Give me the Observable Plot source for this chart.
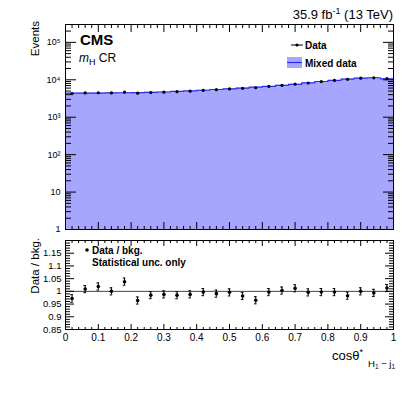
<!DOCTYPE html>
<html><head><meta charset="utf-8">
<script src="https://cdn.jsdelivr.net/npm/d3@7"></script>
<script src="https://cdn.jsdelivr.net/npm/@observablehq/plot@0.6"></script>
<style>
html,body{margin:0;padding:0;background:#fff;}
#wrap{position:relative;width:407px;height:395px;overflow:hidden;font-family:"Liberation Sans",Arial,sans-serif;}
#wrap svg{position:absolute;left:0;}
</style></head>
<body><div id="wrap"></div>
<script>
// ---- data ----
const binCenters = [0.02,0.06,0.10,0.14,0.18,0.22,0.26,0.30,0.34,0.38,0.42,0.46,0.50,0.54,0.58,0.62,0.66,0.70,0.74,0.78,0.82,0.86,0.90,0.94,0.98];
const binLow = [0,0.04,0.08,0.12,0.16,0.20,0.24,0.28,0.32,0.36,0.40,0.44,0.48,0.52,0.56,0.60,0.64,0.68,0.72,0.76,0.80,0.84,0.88,0.92,0.96];
const binUpperEdge = 1.0;
const mixedData = [4400,4420,4420,4450,4500,4560,4620,4720,4880,5030,5260,5500,5740,6020,6340,6650,7100,7580,8240,8990,9620,10450,11050,11350,10600];
const dataEvents = [4277,4460,4504,4450,4671,4396,4551,4663,4807,4970,5244,5450,5717,5912,6118,6630,7121,7671,8207,8963,9591,10272,11050,11282,10738];
const ratio = [0.972,1.009,1.019,1.000,1.038,0.964,0.985,0.988,0.985,0.988,0.997,0.991,0.996,0.982,0.965,0.997,1.003,1.012,0.996,0.997,0.997,0.983,1.000,0.994,1.013];
const ratioErr = [0.015,0.014,0.014,0.014,0.014,0.014,0.014,0.014,0.014,0.014,0.014,0.014,0.014,0.014,0.014,0.014,0.014,0.014,0.014,0.014,0.014,0.014,0.014,0.014,0.014];

const yMajorUp = [1,10,100,1000,10000,100000];
const yMajorUpLabels = ["1","10","10²","10³","10⁴","10⁵"];
const yMinorUp = [2,3,4,5,6,7,8,9,20,30,40,50,60,70,80,90,200,300,400,500,600,700,800,900,
  2000,3000,4000,5000,6000,7000,8000,9000,20000,30000,40000,50000,60000,70000,80000,90000,200000,300000];
const xMajor = [0,0.1,0.2,0.3,0.4,0.5,0.6,0.7,0.8,0.9,1];
const xMajorLabels = ["0","0.1","0.2","0.3","0.4","0.5","0.6","0.7","0.8","0.9","1"];
const xMinor = [0.02,0.04,0.06,0.08,0.12,0.14,0.16,0.18,0.22,0.24,0.26,0.28,0.32,0.34,0.36,0.38,0.42,0.44,0.46,0.48,
  0.52,0.54,0.56,0.58,0.62,0.64,0.66,0.68,0.72,0.74,0.76,0.78,0.82,0.84,0.86,0.88,0.92,0.94,0.96,0.98];
const yMajorLo = [0.85,0.9,0.95,1,1.05,1.1,1.15];
const yMajorLoLabels = ["0.85","0.9","0.95","1","1.05","1.1","1.15"];
const yMinorLo = [0.86,0.87,0.88,0.89,0.91,0.92,0.93,0.94,0.96,0.97,0.98,0.99,1.01,1.02,1.03,1.04,1.06,1.07,1.08,1.09,1.11,1.12,1.13,1.14,1.16,1.17,1.18,1.19];

// ---- tables ----
const histEdges = binLow.map((x,i)=>({x, y: mixedData[i]})).concat([{x: binUpperEdge, y: mixedData[mixedData.length-1]}]);
const pts = binCenters.map((x,i)=>({x, n: dataEvents[i], r: ratio[i], e: ratioErr[i]}));

const FONT = '"Liberation Sans", Arial, sans-serif';
const W = 407, ML = 65, MR = 14;
const IW = W - ML - MR;

function inTicks(xTicks, yTicks, ih, big, small, ybig, ysmall) {
  const fmt = () => "";
  return [
    Plot.axisY(yTicks.major, {anchor:"right", dx:-IW, tickSize:ybig, tickFormat:fmt, label:null}),
    Plot.axisY(yTicks.minor, {anchor:"right", dx:-IW, tickSize:ysmall, tickFormat:fmt, label:null}),
    Plot.axisY(yTicks.major, {anchor:"left", dx:IW, tickSize:ybig, tickFormat:fmt, label:null}),
    Plot.axisY(yTicks.minor, {anchor:"left", dx:IW, tickSize:ysmall, tickFormat:fmt, label:null}),
    Plot.axisX(xTicks.major, {anchor:"top", dy:ih, tickSize:big, tickFormat:fmt, label:null}),
    Plot.axisX(xTicks.minor, {anchor:"top", dy:ih, tickSize:small, tickFormat:fmt, label:null}),
    Plot.axisX(xTicks.major, {anchor:"bottom", dy:-ih, tickSize:big, tickFormat:fmt, label:null}),
    Plot.axisX(xTicks.minor, {anchor:"bottom", dy:-ih, tickSize:small, tickFormat:fmt, label:null})
  ];
}

// ---- upper panel ----
const upH = 237, upMT = 24, upMB = 8;
const upper = Plot.plot({
  width: W, height: upH, marginLeft: ML, marginRight: MR, marginTop: upMT, marginBottom: upMB,
  style: {background:"transparent", fontFamily: FONT, fontSize:"9px", color:"black"},
  x: {domain:[0,1]},
  y: {type:"log", domain:[1, 3e5]},
  marks: [
    Plot.areaY(histEdges, {x:"x", y1: 1, y2:"y", curve:"step-after", fill:"#a6a6ff"}),
    Plot.line(histEdges, {x:"x", y:"y", curve:"step-after", stroke:"#2b2bff", strokeWidth:1.2}),
    Plot.dot(pts, {x:"x", y:"n", r:1.6, fill:"black", stroke:null}),
    ...inTicks({major:xMajor, minor:xMinor}, {major:yMajorUp, minor:yMinorUp}, upH-upMT-upMB, 8, 4, 10, 5),
    Plot.axisY(yMajorUp, {anchor:"left", tickSize:0, tickPadding:5, tickFormat:(d)=>yMajorUpLabels[yMajorUp.indexOf(d)], label:null, fontSize:9}),
    Plot.frame({stroke:"black"})
  ]
});
upper.style.top = "0px";

// ---- lower panel ----
const loH = 165, loMT = 10, loMB = 66;
const lower = Plot.plot({
  width: W, height: loH, marginLeft: ML, marginRight: MR, marginTop: loMT, marginBottom: loMB,
  style: {background:"transparent", fontFamily: FONT, fontSize:"9.5px", color:"black"},
  x: {domain:[0,1]},
  y: {domain:[0.85, 1.2]},
  marks: [
    Plot.ruleY([1], {stroke:"#444", strokeWidth:1}),
    Plot.ruleX(pts, {x:"x", y1:(d)=>d.r-d.e, y2:(d)=>d.r+d.e, stroke:"black", strokeWidth:1}),
    Plot.ruleY(pts, {y:(d)=>d.r-d.e, x1:(d)=>d.x-0.004, x2:(d)=>d.x+0.004, stroke:"black", strokeWidth:1}),
    Plot.ruleY(pts, {y:(d)=>d.r+d.e, x1:(d)=>d.x-0.004, x2:(d)=>d.x+0.004, stroke:"black", strokeWidth:1}),
    Plot.dot(pts, {x:"x", y:"r", r:1.8, fill:"black", stroke:null}),
    ...inTicks({major:xMajor, minor:xMinor}, {major:yMajorLo, minor:yMinorLo}, loH-loMT-loMB, 6, 3, 8, 4),
    Plot.axisY(yMajorLo, {anchor:"left", tickSize:0, tickPadding:4, tickFormat:(d)=>yMajorLoLabels[yMajorLo.indexOf(d)], label:null}),
    Plot.axisX(xMajor, {anchor:"bottom", tickSize:0, tickPadding:4, tickFormat:(d)=>xMajorLabels[xMajor.indexOf(d)], label:null, fontSize:10}),
    Plot.frame({stroke:"black"})
  ]
});
lower.style.top = "230px";

const wrap = document.getElementById("wrap");
wrap.appendChild(upper);
wrap.appendChild(lower);

// ---- annotations ----
const ns = "http://www.w3.org/2000/svg";
const ov = document.createElementNS(ns, "svg");
ov.setAttribute("width", W); ov.setAttribute("height", 395);
ov.style.top = "0px"; ov.style.pointerEvents = "none";
ov.innerHTML = `
<g font-family='${FONT}' fill='black'>
  <text x="393" y="19" text-anchor="end" font-size="13">35.9 fb<tspan font-size="9" dy="-5">-1</tspan><tspan dy="5"> (13 TeV)</tspan></text>
  <text transform="translate(39,21) rotate(-90)" text-anchor="end" font-size="11.5">Events</text>
  <text transform="translate(39,238) rotate(-90)" text-anchor="end" font-size="11.5">Data / bkg.</text>
  <text x="80" y="45" font-size="15" font-weight="bold">CMS</text>
  <text x="79" y="62" font-size="12"><tspan font-style="italic">m</tspan><tspan font-size="9" dy="3">H</tspan><tspan dy="-3"> CR</tspan></text>
  <line x1="291" x2="303" y1="45" y2="45" stroke="black" stroke-width="1"/>
  <circle cx="297" cy="45" r="1.6" fill="black"/>
  <text x="305" y="48.5" font-size="10" font-weight="bold">Data</text>
  <rect x="287" y="57" width="15" height="11" fill="#a6a6ff"/>
  <line x1="287" x2="302" y1="62.5" y2="62.5" stroke="#2b2bff" stroke-width="1.2"/>
  <text x="305" y="66.5" font-size="10" font-weight="bold">Mixed data</text>
  <circle cx="87" cy="250" r="1.8" fill="black"/>
  <text x="92" y="253.5" font-size="10" font-weight="bold">Data / bkg.</text>
  <text x="92" y="266" font-size="10" font-weight="bold">Statistical unc. only</text>
  <text x="332" y="360" font-size="13">cosθ<tspan font-size="9" dy="-5">*</tspan></text>
  <text x="368" y="367" font-size="9.5">H<tspan font-size="6.5" dy="2">1</tspan><tspan dy="-2"> − j</tspan><tspan font-size="6.5" dy="2">1</tspan></text>
</g>`;
wrap.appendChild(ov);
</script>
</body></html>
